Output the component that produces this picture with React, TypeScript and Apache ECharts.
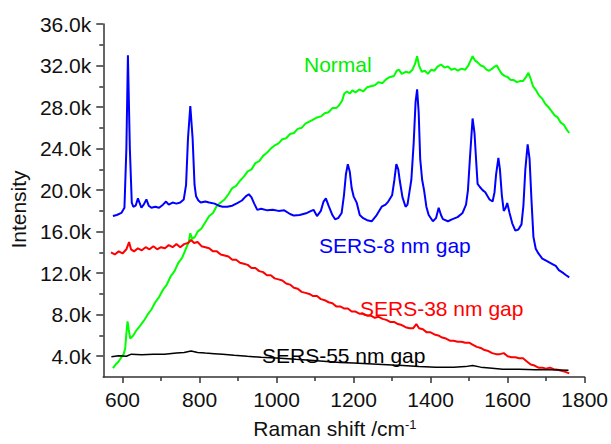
import React, { useEffect, useRef } from "react";
import * as echarts from "echarts";

// ---- data (Raman shift cm^-1, intensity in k counts) ----
const blueX = [575, 585, 597, 605, 610, 614, 619, 624, 628, 634, 640, 645, 649, 655, 662, 668, 675, 685, 695, 705, 713, 720, 730, 740, 750, 759, 765, 770, 776, 782, 787, 791, 797, 803, 815, 825, 839, 850, 860, 872, 885, 898, 910, 920, 928, 935, 942, 950, 960, 976, 990, 1005, 1020, 1035, 1045, 1060, 1079, 1090, 1096, 1105, 1115, 1122, 1128, 1135, 1145, 1152, 1160, 1169, 1175, 1180, 1185, 1190, 1195, 1200, 1208, 1216, 1225, 1235, 1247, 1260, 1273, 1283, 1290, 1300, 1306, 1311, 1316, 1320, 1327, 1335, 1340, 1345, 1350, 1356, 1361, 1365, 1369, 1373, 1378, 1383, 1389, 1395, 1406, 1414, 1421, 1427, 1432, 1445, 1457, 1470, 1483, 1492, 1497, 1502, 1509, 1514, 1518, 1522, 1528, 1535, 1542, 1548, 1553, 1561, 1566, 1570, 1576, 1580, 1585, 1590, 1595, 1599, 1605, 1612, 1620, 1628, 1636, 1641, 1646, 1652, 1657, 1662, 1667, 1673, 1680, 1690, 1700, 1715, 1725, 1733, 1745, 1752, 1760];
const blueY = [17.5, 17.6, 17.8, 18.3, 24.0, 33.0, 24.0, 18.8, 18.4, 18.5, 19.2, 18.7, 18.3, 18.6, 19.1, 18.5, 18.3, 18.4, 18.3, 18.6, 18.9, 18.6, 18.8, 18.7, 18.8, 19.1, 20.5, 25.0, 28.1, 25.0, 20.5, 19.4, 19.0, 18.8, 18.9, 18.8, 18.7, 18.5, 18.4, 18.4, 18.5, 18.75, 19.0, 19.4, 19.6, 19.3, 18.7, 18.1, 18.2, 18.05, 18.1, 18.0, 18.05, 17.7, 17.55, 17.6, 17.8, 18.0, 18.1, 17.5, 18.0, 18.9, 19.2, 18.5, 17.6, 17.2, 17.3, 17.8, 19.5, 21.5, 22.5, 21.8, 20.2, 19.4, 18.8, 17.6, 17.3, 17.1, 17.0, 17.6, 18.4, 18.6, 18.9, 19.5, 21.0, 22.5, 22.0, 20.9, 19.3, 18.4, 18.6, 19.8, 21.0, 24.5, 28.5, 29.7, 27.5, 23.0, 21.0, 20.0, 18.4, 17.6, 17.0, 17.3, 18.3, 17.6, 17.2, 17.0, 17.2, 17.4, 17.8, 18.6, 20.0, 23.0, 26.9, 25.5, 23.0, 20.6, 20.3, 20.0, 19.8, 19.4, 19.1, 18.9, 19.8, 21.5, 23.1, 22.0, 19.5, 18.0, 18.3, 18.75, 17.8, 16.8, 16.1, 16.2, 16.7, 18.5, 22.0, 24.4, 23.0, 19.0, 15.5, 14.35, 13.9, 13.4, 13.2, 12.9, 12.7, 12.3, 12.0, 11.8, 11.6];

const greenX = [575, 582, 590, 597, 603, 607, 610, 613, 616, 620, 628, 636, 645, 655, 665, 675, 685, 695, 705, 715, 725, 735, 745, 755, 765, 772, 776, 781, 788, 795, 805, 815, 825, 835, 845, 855, 865, 875, 885, 895, 905, 915, 925, 935, 945, 955, 965, 975, 985, 995, 1005, 1015, 1025, 1035, 1045, 1055, 1065, 1075, 1085, 1095, 1105, 1115, 1125, 1135, 1145, 1155, 1163, 1170, 1176, 1183, 1190, 1197, 1205, 1215, 1225, 1235, 1245, 1255, 1265, 1275, 1285, 1295, 1305, 1312, 1318, 1325, 1335, 1345, 1353, 1360, 1365, 1370, 1377, 1385, 1393, 1402, 1410, 1418, 1427, 1436, 1445, 1454, 1462, 1471, 1480, 1490, 1498, 1504, 1509, 1515, 1522, 1530, 1538, 1545, 1552, 1560, 1566, 1572, 1578, 1585, 1592, 1600, 1608, 1616, 1624, 1632, 1640, 1648, 1654, 1660, 1666, 1674, 1682, 1690, 1698, 1706, 1714, 1722, 1730, 1738, 1746, 1754, 1760];
const greenY = [2.85, 3.2, 3.5, 3.9, 4.2, 4.8, 6.2, 7.35, 6.6, 5.7, 6.0, 6.5, 6.9, 7.4, 8.0, 8.5, 9.2, 9.7, 10.4, 10.9, 11.7, 12.2, 13.0, 13.5, 14.4, 15.0, 15.85, 15.3, 15.5, 16.0, 16.3, 16.9, 17.5, 17.8, 18.5, 18.8, 19.1, 19.6, 20.2, 20.4, 20.9, 21.3, 21.8, 22.0, 22.6, 22.8, 23.3, 23.6, 24.0, 24.3, 24.5, 24.9, 25.0, 25.4, 25.5, 25.9, 26.0, 26.4, 26.6, 26.8, 27.0, 27.1, 27.4, 27.5, 27.9, 27.9, 28.2, 28.6, 29.3, 29.5, 29.3, 29.6, 29.4, 29.7, 29.5, 29.9, 30.0, 30.1, 30.4, 30.3, 30.7, 30.9, 31.0, 31.5, 31.6, 31.2, 31.4, 31.3, 31.6, 32.2, 32.9, 32.0, 31.4, 31.5, 31.2, 31.6, 31.5, 31.9, 32.1, 31.8, 31.9, 31.6, 31.7, 31.5, 31.7, 31.6, 32.0, 32.5, 32.9, 32.5, 32.3, 32.0, 31.9, 31.6, 31.5, 31.7, 31.9, 32.0, 31.6, 31.2, 31.0, 30.9, 30.6, 30.6, 30.4, 30.5, 30.5, 30.9, 31.3, 30.7, 30.0, 29.6, 29.1, 28.8, 28.3, 28.0, 27.6, 27.2, 27.0, 26.5, 26.3, 25.8, 25.5];

const redX = [570, 580, 590, 600, 610, 617, 622, 630, 640, 650, 660, 670, 680, 690, 700, 710, 720, 730, 740, 750, 760, 770, 778, 786, 795, 805, 815, 825, 835, 845, 855, 865, 875, 885, 895, 905, 915, 925, 935, 945, 955, 965, 975, 985, 995, 1005, 1015, 1025, 1035, 1045, 1055, 1065, 1075, 1085, 1095, 1105, 1115, 1125, 1135, 1145, 1155, 1165, 1175, 1185, 1195, 1205, 1215, 1225, 1235, 1245, 1255, 1265, 1275, 1285, 1295, 1305, 1315, 1325, 1335, 1345, 1355, 1363, 1370, 1380, 1390, 1400, 1410, 1420, 1430, 1440, 1450, 1460, 1470, 1480, 1490, 1500, 1510, 1520, 1530, 1540, 1550, 1560, 1570, 1580, 1590, 1600, 1610, 1620, 1630, 1640, 1650, 1660, 1670, 1680, 1690, 1700, 1710, 1720, 1730, 1740, 1750, 1760];
const redY = [14.0, 13.8, 14.1, 13.9, 14.3, 15.0, 14.3, 14.1, 14.4, 14.2, 14.5, 14.3, 14.6, 14.3, 14.5, 14.4, 14.7, 14.5, 14.8, 14.5, 14.8, 14.9, 15.2, 14.9, 15.0, 14.6, 14.5, 14.4, 14.1, 14.1, 13.8, 13.7, 13.6, 13.3, 13.3, 13.0, 12.9, 12.8, 12.5, 12.5, 12.2, 12.1, 11.8, 11.8, 11.5, 11.4, 11.3, 11.0, 10.9, 10.6, 10.5, 10.2, 10.1, 10.0, 9.8, 9.8, 9.5, 9.4, 9.2, 9.1, 8.8, 8.8, 8.6, 8.6, 8.3, 8.3, 8.1, 8.1, 7.9, 7.9, 7.7, 7.8, 7.6, 7.5, 7.3, 7.3, 7.1, 7.0, 6.8, 6.7, 6.7, 7.1, 6.7, 6.6, 6.3, 6.3, 6.1, 6.0, 5.8, 5.7, 5.5, 5.5, 5.4, 5.4, 5.3, 5.3, 5.1, 4.9, 4.8, 4.6, 4.5, 4.3, 4.2, 4.2, 4.3, 4.0, 3.9, 3.9, 3.8, 3.8, 3.5, 3.2, 3.1, 2.9, 2.9, 2.8, 2.9, 2.75, 2.7, 2.6, 2.5, 2.35];

const blackX = [571, 590, 610, 623, 650, 680, 709, 740, 760, 778, 795, 815, 838, 860, 890, 924, 960, 1010, 1050, 1096, 1130, 1165, 1200, 1250, 1300, 1328, 1370, 1414, 1460, 1490, 1509, 1530, 1560, 1587, 1630, 1672, 1710, 1758];
const blackY = [3.95, 4.05, 4.0, 4.2, 4.15, 4.2, 4.2, 4.3, 4.35, 4.5, 4.35, 4.3, 4.25, 4.2, 4.1, 4.0, 3.9, 3.8, 3.7, 3.6, 3.5, 3.4, 3.35, 3.25, 3.15, 3.1, 3.0, 2.95, 2.95, 3.0, 3.1, 2.95, 2.85, 2.75, 2.75, 2.7, 2.7, 2.65];

const xMajorTicks = [600, 800, 1000, 1200, 1400, 1600, 1800];
const xMinorTicks = [700, 900, 1100, 1300, 1500, 1700];
const yMajorTicks = [4000, 8000, 12000, 16000, 20000, 24000, 28000, 32000, 36000];
const yMinorTicks = [6000, 10000, 14000, 18000, 22000, 26000, 30000, 34000];

const seriesInfo = [
  { name: "Normal", xs: greenX, ys: greenY, color: "#00ff00" },
  { name: "SERS-8 nm gap", xs: blueX, ys: blueY, color: "#0000ff" },
  { name: "SERS-38 nm gap", xs: redX, ys: redY, color: "#ff0000" },
  { name: "SERS-55 nm gap", xs: blackX, ys: blackY, color: "#000000" },
];

const FONT = '"Liberation Sans", Arial, sans-serif';
const AXIS_COLOR = "#333333";

export default function App() {
  const ref = useRef<HTMLDivElement>(null);
  useEffect(() => {
    if (!ref.current) return;
    const chart = echarts.init(ref.current, null, { renderer: "svg" });
    const xMin = 550, xMax = 1800, yMin = 2000, yMax = 36000;
    const baseAxisLine = { show: true, lineStyle: { color: AXIS_COLOR, width: 1.5 } };
    chart.setOption({
      animation: false,
      backgroundColor: "#ffffff",
      textStyle: { fontFamily: FONT },
      grid: { left: 100, right: 26, top: 24, bottom: 60, containLabel: false },
      xAxis: [
        {
          type: "value", min: xMin, max: xMax, position: "bottom",
          axisLine: baseAxisLine,
          axisTick: { show: true, inside: false, length: 6, customValues: xMajorTicks, lineStyle: { color: AXIS_COLOR, width: 1.5 } },
          axisLabel: {
            show: true, customValues: xMajorTicks, margin: 12, fontSize: 21, color: "#111", fontFamily: FONT,
            formatter: (v: number) => String(v),
          },
          splitLine: { show: false },
          name: "Raman shift /cm{sup|-1}",
          nameLocation: "middle",
          nameGap: 41,
          nameTextStyle: {
            fontSize: 21, color: "#111", fontFamily: FONT, padding: [0, 18, 0, 0],
            rich: { sup: { fontSize: 13, verticalAlign: "top", color: "#111", fontFamily: FONT } },
          },
        },
        {
          type: "value", min: xMin, max: xMax, position: "bottom",
          axisLine: { show: false },
          axisTick: { show: true, inside: false, length: 4, customValues: xMinorTicks, lineStyle: { color: AXIS_COLOR, width: 1.5 } },
          axisLabel: { show: false },
          splitLine: { show: false },
        },
      ],
      yAxis: [
        {
          type: "value", min: yMin, max: yMax, interval: 2000, position: "left",
          axisLine: baseAxisLine,
          axisTick: { show: true, inside: false, length: 7, customValues: yMajorTicks, lineStyle: { color: AXIS_COLOR, width: 1.5 } },
          axisLabel: {
            show: true, customValues: yMajorTicks, margin: 12, fontSize: 21, color: "#111", fontFamily: FONT,
            formatter: (v: number) => (v / 1000).toFixed(1) + "k",
          },
          splitLine: { show: false },
          name: "Intensity",
          nameLocation: "middle",
          nameGap: 66,
          nameTextStyle: { fontSize: 21, color: "#111", fontFamily: FONT, padding: [0, 18, 0, 0] },
        },
        {
          type: "value", min: yMin, max: yMax, interval: 2000, position: "left",
          axisLine: { show: false },
          axisTick: { show: true, inside: false, length: 4, customValues: yMinorTicks, lineStyle: { color: AXIS_COLOR, width: 1.5 } },
          axisLabel: { show: false },
          splitLine: { show: false },
        },
      ],
      series: seriesInfo.map((s) => ({
        name: s.name,
        type: "line",
        xAxisIndex: 0,
        yAxisIndex: 0,
        showSymbol: false,
        symbol: "none",
        lineStyle: { color: s.color, width: s.color === "#000000" ? 1.5 : 2 },
        itemStyle: { color: s.color },
        data: s.xs.map((x, i) => [x, s.ys[i] * 1000]),
      })),
      graphic: [
        { type: "text", x: 304, y: 64, style: { text: "Normal", fill: "#00ee00", fontSize: 21, fontFamily: FONT, verticalAlign: "middle" } },
        { type: "text", x: 319, y: 245, style: { text: "SERS-8 nm gap", fill: "#0000ff", fontSize: 21, fontFamily: FONT, verticalAlign: "middle" } },
        { type: "text", x: 360, y: 308, style: { text: "SERS-38 nm gap", fill: "#ff0000", fontSize: 21, fontFamily: FONT, verticalAlign: "middle" } },
        { type: "text", x: 262, y: 355, style: { text: "SERS-55 nm gap", fill: "#000000", fontSize: 21, fontFamily: FONT, verticalAlign: "middle" } },
      ],
    });
    return () => chart.dispose();
  }, []);
  return (
    <div
      ref={ref}
      style={{ position: "fixed", left: 0, top: 0, width: 611, height: 444, background: "#fff" }}
    />
  );
}
